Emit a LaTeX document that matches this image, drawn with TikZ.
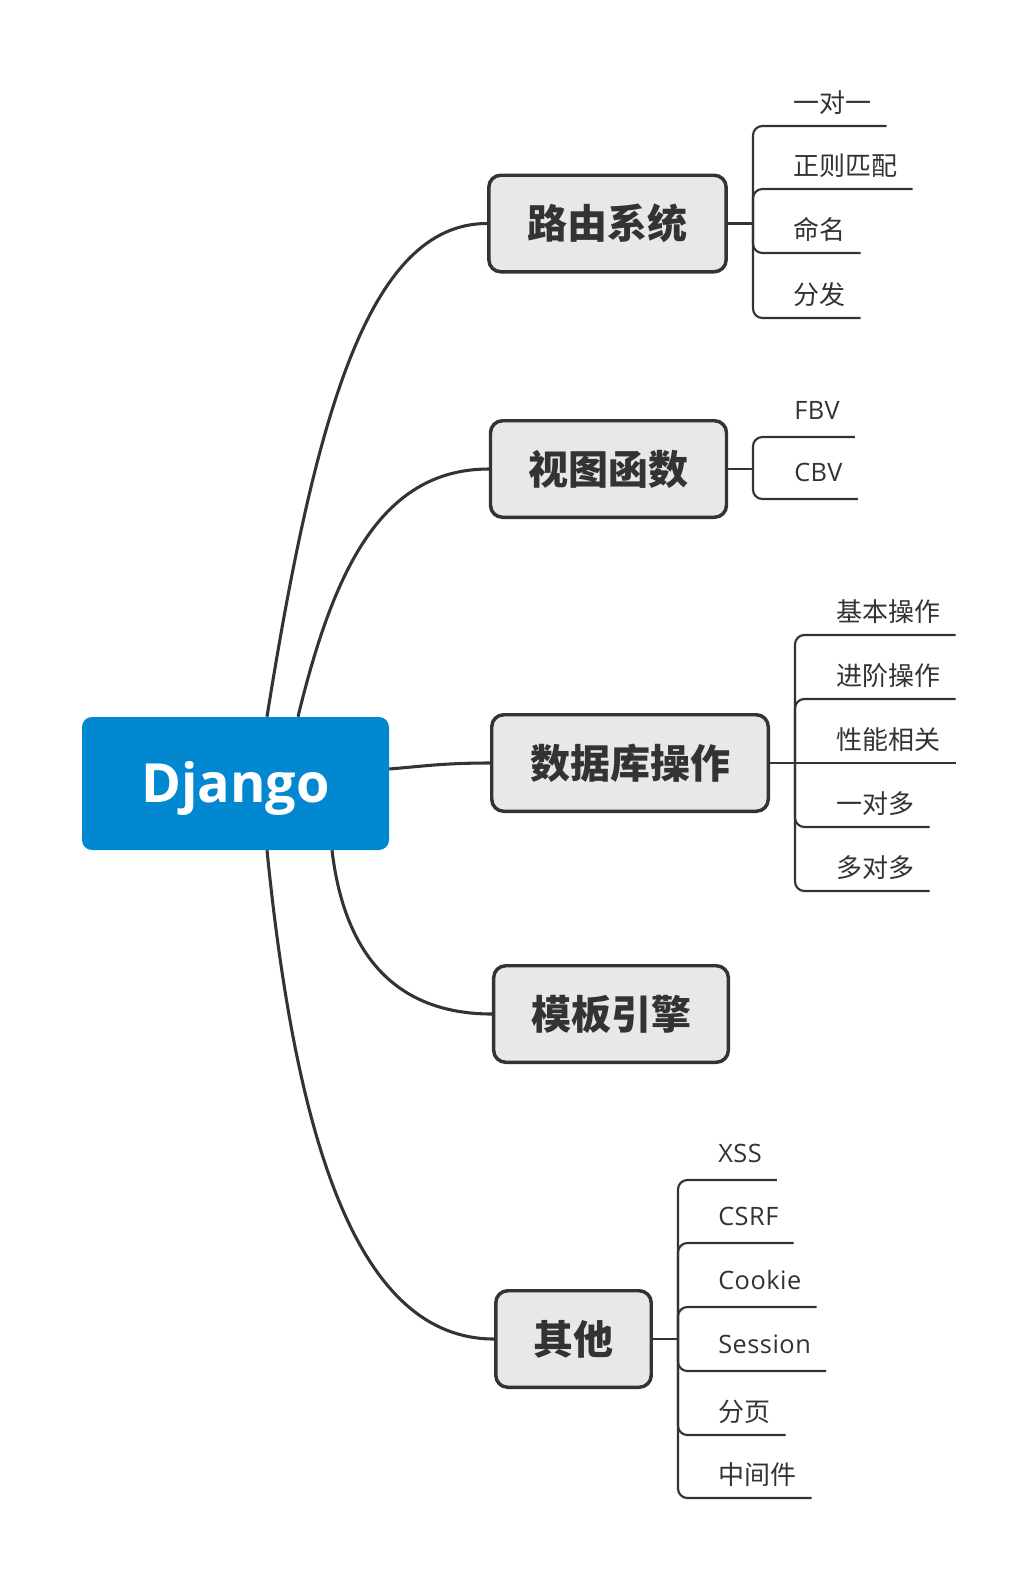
\documentclass[tikz,border=0pt]{standalone}
\usepackage{fontspec}
\setmainfont{Open Sans}
\newfontfamily\cjk{Noto Sans CJK SC}
\usetikzlibrary{calc}
\definecolor{ink}{HTML}{333333}
\definecolor{boxfill}{HTML}{E8E8E8}
\definecolor{djblue}{HTML}{0288D1}
\tikzset{
  mainbox/.style={fill=djblue, rounded corners=7.5pt, minimum width=230.25pt, minimum height=99.75pt,
    inner sep=0pt, text=white, text height=28.9pt, text depth=0pt,
    font=\bfseries\fontsize{40.5pt}{40.5pt}\selectfont},
  topic/.style={draw=ink, line width=2.6pt, fill=boxfill, rounded corners=9pt, minimum height=72.4pt,
    inner sep=0pt, text=ink, font=\cjk\bfseries\fontsize{30pt}{30pt}\selectfont},
  conn/.style={draw=ink, line width=2.3pt},
  sub/.style={draw=ink, line width=1.6pt, rounded corners=7pt},
  leafc/.style={anchor=south west, inner xsep=11.25pt, inner ysep=0pt, text depth=10.1pt, text=ink,
    font=\cjk\fontsize{19.5pt}{19.5pt}\selectfont},
  leafl/.style={anchor=south west, inner xsep=11.25pt, inner ysep=0pt, text depth=12.9pt, text=ink,
    font=\addfontfeature{LetterSpace=2}\fontsize{19pt}{19pt}\selectfont},
}
\begin{document}
\begin{tikzpicture}[x=0.75pt,y=-0.75pt]
\fill[white] (0,0) rectangle (1034,1589);
\useasboundingbox (0,0) rectangle (1034,1589);

% central topic and main topics
\node[mainbox] (dj) at (235.5,783.5) {Django};
\node[topic, minimum width=178pt] (r1) at (607.5,223.5) {路由系统};
\node[topic, minimum width=177pt] (r2) at (608.5,469) {视图函数};
\node[topic, minimum width=207.4pt] (r3) at (630,763) {数据库操作};
\node[topic, minimum width=176pt] (r4) at (611,1014) {模板引擎};
\node[topic, minimum width=116.6pt] (r5) at (573.5,1339) {其他};

% main connectors
\draw[conn] ($(dj.north)+(31.5,0)$) .. controls (315,417) and (368,223.5) .. (r1.west);
\draw[conn] ($(dj.north)+(62.5,0)$) .. controls (332,577) and (378,469) .. (r2.west);
\draw[conn] ($(dj.east)+(0,-14.5)$) .. controls (425,766) and (445,763) .. (r3.west);
\draw[conn] ($(dj.south)+(96.5,0)$) .. controls (345,960) and (400,1014) .. (r4.west);
\draw[conn] ($(dj.south)+(31.5,0)$) .. controls (297,1150) and (360,1339) .. (r5.west);

% junctions
\coordinate (j1) at (753,223.5);
\coordinate (j2) at (753,469);
\coordinate (j3) at (795,763);
\coordinate (j5) at (678,1339);

% group 1
\node[leafc] (a1) at (778,126) {一对一};
\node[leafc] (a2) at (778,189) {正则匹配};
\node[leafc] (a3) at (778,253) {命名};
\node[leafc] (a4) at (778,318) {分发};
\draw[sub] (r1.east) -- (j1);
\foreach \n in {a1,a2,a3,a4} \draw[sub] (j1) |- (\n.south east);

% group 2
\node[leafl] (b1) at (779,437) {FBV};
\node[leafl] (b2) at (779,499) {CBV};
\draw[sub] (r2.east) -- (j2);
\foreach \n in {b1,b2} \draw[sub] (j2) |- (\n.south east);

% group 3
\node[leafc] (c1) at (821,635) {基本操作};
\node[leafc] (c2) at (821,699) {进阶操作};
\node[leafc] (c3) at (821,763) {性能相关};
\node[leafc] (c4) at (821,827) {一对多};
\node[leafc] (c5) at (821,891) {多对多};
\draw[sub] (r3.east) -- (j3);
\foreach \n in {c1,c2,c4,c5} \draw[sub] (j3) |- (\n.south east);
\draw[sub] (j3) -- (c3.south east);

% group 5
\node[leafl] (e1) at (703,1180) {XSS};
\node[leafl] (e2) at (703,1243) {CSRF};
\node[leafl] (e3) at (703,1307) {Cookie};
\node[leafl] (e4) at (703,1371) {Session};
\node[leafc] (e5) at (703,1435) {分页};
\node[leafc] (e6) at (703,1498) {中间件};
\draw[sub] (r5.east) -- (j5);
\foreach \n in {e1,e2,e3,e4,e5,e6} \draw[sub] (j5) |- (\n.south east);
\end{tikzpicture}
\end{document}
